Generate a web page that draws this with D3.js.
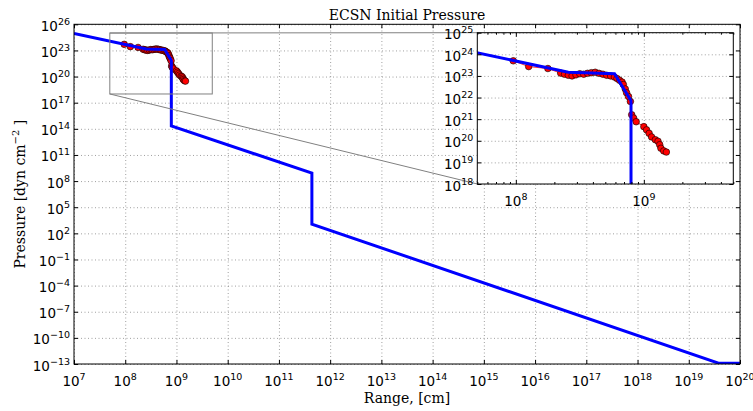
<!DOCTYPE html>
<html>
<head>
<meta charset="utf-8">
<script src="https://cdn.jsdelivr.net/npm/d3@7"></script>
<style>
body { margin: 0; background: #fff; }
</style>
</head>
<body>
<div id="chart"></div>
<script>
// model curve (blue): range [cm] and pressure [dyn cm^-2]
var modelRange = [1e7, 2.57e8, 5.9e8, 7.94e8, 7.94e8, 4.4e11, 4.4e11, 3.8e19, 1e20];
var modelPressure = [8.9e24, 1.48e23, 1.26e23, 7.1e21, 2.2e14, 8.1e8, 1.15e3, 1.25e-13, 1.25e-13];

// measured points (red)
var obsRange = [9.55e7, 1.26e8, 1.78e8, 2.24e8, 2.40e8, 2.57e8, 2.75e8, 2.95e8, 3.16e8, 3.39e8,
    3.63e8, 3.89e8, 4.17e8, 4.47e8, 4.79e8, 5.13e8, 5.50e8, 5.89e8, 6.17e8, 6.46e8,
    6.76e8, 6.92e8, 7.16e8, 7.33e8, 7.59e8, 7.85e8, 8.04e8, 8.32e8, 8.71e8, 1.00e9,
    1.05e9, 1.10e9, 1.15e9, 1.23e9, 1.29e9, 1.33e9, 1.36e9, 1.43e9, 1.50e9];
var obsPressure = [5.0e23, 2.7e23, 2.2e23, 1.35e23, 1.2e23, 1.07e23, 1.0e23, 1.12e23, 1.26e23, 1.2e23,
    1.32e23, 1.41e23, 1.48e23, 1.32e23, 1.2e23, 1.07e23, 1.0e23, 8.9e22, 7.6e22, 6.3e22,
    5.2e22, 4.0e22, 2.5e22, 1.66e22, 1.12e22, 6.6e21, 1.6e21, 1.12e21, 7.6e20, 4.5e20,
    3.2e20, 2.2e20, 1.5e20, 1.12e20, 9.5e19, 6.6e19, 4.5e19, 3.4e19, 3.0e19];

// tick labels
var mainXTicks = [1e7, 1e8, 1e9, 1e10, 1e11, 1e12, 1e13, 1e14, 1e15, 1e16, 1e17, 1e18, 1e19, 1e20];
var mainYTicks = [1e26, 1e23, 1e20, 1e17, 1e14, 1e11, 1e8, 1e5, 1e2, 1e-1, 1e-4, 1e-7, 1e-10, 1e-13];
var insetXTicks = [1e8, 1e9];
var insetYTicks = [1e25, 1e24, 1e23, 1e22, 1e21, 1e20, 1e19, 1e18];
var insetXDomain = [5e7, 5e9];
var insetYDomain = [1e18, 1e25];

var width = 753, height = 411;
var mainBox = { left: 74, right: 740, top: 24.3, bottom: 364 };
var insetBox = { left: 477.3, right: 733.3, top: 32.7, bottom: 184 };

var svg = d3.select("#chart")
    .append("svg")
    .attr("width", width)
    .attr("height", height)
    .style("font-family", "DejaVu Sans");

svg.append("rect").attr("width", width).attr("height", height).attr("fill", "#fff");

var x = d3.scaleLog().domain([1e7, 1e20]).range([mainBox.left, mainBox.right]);
var y = d3.scaleLog().domain([1e-13, 1e26]).range([mainBox.bottom, mainBox.top]);
var xi = d3.scaleLog().domain(insetXDomain).range([insetBox.left, insetBox.right]);
var yi = d3.scaleLog().domain(insetYDomain).range([insetBox.bottom, insetBox.top]);

var model = d3.zip(modelRange, modelPressure);
var obs = d3.zip(obsRange, obsPressure);

function expOf(v) {
    return String(Math.round(Math.log10(v))).replace("-", "\u2212");
}

function powLabel(g, px, py, v, anchor) {
    var t = g.append("text")
        .attr("x", px)
        .attr("y", py)
        .attr("text-anchor", anchor)
        .style("font-size", "13.5px")
        .attr("fill", "#000");
    t.append("tspan").text("10");
    t.append("tspan").attr("dy", -6).style("font-size", "9.5px").text(expOf(v));
}

function drawPanel(name, xs, ys, box, xTicks, yTicks, xMinor) {
    var g = svg.append("g");
    var w = box.right - box.left, h = box.bottom - box.top;

    g.append("rect")
        .attr("x", box.left).attr("y", box.top)
        .attr("width", w).attr("height", h)
        .attr("fill", "#fff");

    g.append("clipPath").attr("id", "clip-" + name)
        .append("rect")
        .attr("x", box.left).attr("y", box.top - 2)
        .attr("width", w).attr("height", h + 2);

    // grid
    g.append("g")
        .attr("transform", "translate(0," + box.bottom + ")")
        .call(d3.axisBottom(xs).tickValues(xTicks).tickSize(-h).tickFormat(""))
        .call(function (a) { a.select(".domain").remove(); });
    g.append("g")
        .attr("transform", "translate(" + box.left + ",0)")
        .call(d3.axisLeft(ys).tickValues(yTicks).tickSize(-w).tickFormat(""))
        .call(function (a) { a.select(".domain").remove(); });
    g.selectAll(".tick line")
        .attr("stroke", "#888")
        .attr("stroke-width", 0.8)
        .attr("stroke-dasharray", "1,2.5");

    var plot = g.append("g").attr("clip-path", "url(#clip-" + name + ")");

    // measured points
    plot.append("path")
        .datum(obs)
        .attr("fill", "none")
        .attr("stroke", "#f00")
        .attr("stroke-width", 0.8)
        .attr("d", d3.line().x(function (d) { return xs(d[0]); }).y(function (d) { return ys(d[1]); }));
    plot.selectAll("circle")
        .data(obs)
        .enter()
        .append("circle")
        .attr("cx", function (d) { return xs(d[0]); })
        .attr("cy", function (d) { return ys(d[1]); })
        .attr("r", 3.3)
        .attr("fill", "#f00")
        .attr("stroke", "#000")
        .attr("stroke-width", 0.6);

    // model curve
    plot.append("path")
        .datum(model)
        .attr("fill", "none")
        .attr("stroke", "#0000ff")
        .attr("stroke-width", 3)
        .attr("stroke-linejoin", "miter")
        .attr("d", d3.line().x(function (d) { return xs(d[0]); }).y(function (d) { return ys(d[1]); }));

    // inward ticks on all sides
    var tk = g.append("g");
    tk.append("g").attr("transform", "translate(0," + box.bottom + ")")
        .call(d3.axisBottom(xs).tickValues(xTicks).tickSize(-4).tickFormat("").tickSizeOuter(0));
    tk.append("g").attr("transform", "translate(0," + box.top + ")")
        .call(d3.axisTop(xs).tickValues(xTicks).tickSize(-4).tickFormat("").tickSizeOuter(0));
    tk.append("g").attr("transform", "translate(" + box.left + ",0)")
        .call(d3.axisLeft(ys).tickValues(yTicks).tickSize(-4).tickFormat("").tickSizeOuter(0));
    tk.append("g").attr("transform", "translate(" + box.right + ",0)")
        .call(d3.axisRight(ys).tickValues(yTicks).tickSize(-4).tickFormat("").tickSizeOuter(0));
    if (xMinor) {
        tk.append("g").attr("transform", "translate(0," + box.bottom + ")")
            .call(d3.axisBottom(xs).tickValues(xMinor).tickSize(-2).tickFormat("").tickSizeOuter(0));
        tk.append("g").attr("transform", "translate(0," + box.top + ")")
            .call(d3.axisTop(xs).tickValues(xMinor).tickSize(-2).tickFormat("").tickSizeOuter(0));
    }
    tk.selectAll(".domain").remove();
    tk.selectAll(".tick line").attr("stroke", "#000").attr("stroke-width", 1);

    // frame
    g.append("rect")
        .attr("x", box.left).attr("y", box.top)
        .attr("width", w).attr("height", h)
        .attr("fill", "none")
        .attr("stroke", "#000")
        .attr("stroke-width", 1);

    // tick labels
    xTicks.forEach(function (v) { powLabel(g, xs(v), box.bottom + 21.5, v, "middle"); });
    yTicks.forEach(function (v) { powLabel(g, box.left - 4, ys(v) + 6.5, v, "end"); });
    return g;
}

drawPanel("main", x, y, mainBox, mainXTicks, mainYTicks, null);

// zoom rectangle and connectors
var zoomG = svg.append("g").attr("fill", "none").attr("stroke", "#808080").attr("stroke-width", 1);
zoomG.append("rect")
    .attr("x", x(insetXDomain[0]))
    .attr("y", y(insetYDomain[1]))
    .attr("width", x(insetXDomain[1]) - x(insetXDomain[0]))
    .attr("height", y(insetYDomain[0]) - y(insetYDomain[1]));
zoomG.append("line")
    .attr("x1", x(insetXDomain[0])).attr("y1", y(insetYDomain[1]))
    .attr("x2", insetBox.left).attr("y2", insetBox.top);
zoomG.append("line")
    .attr("x1", x(insetXDomain[0])).attr("y1", y(insetYDomain[0]))
    .attr("x2", insetBox.left).attr("y2", insetBox.bottom);

var insetMinor = xi.ticks().filter(function (v) { return insetXTicks.indexOf(v) < 0; });
var insetG = drawPanel("inset", xi, yi, insetBox, insetXTicks, insetYTicks, insetMinor);
insetG.selectAll("text").filter(function () { return false; });

// titles
svg.append("text")
    .attr("x", (mainBox.left + mainBox.right) / 2)
    .attr("y", 20)
    .attr("text-anchor", "middle")
    .style("font-family", "DejaVu Serif")
    .style("font-size", "14px")
    .text("ECSN Initial Pressure");

svg.append("text")
    .attr("x", (mainBox.left + mainBox.right) / 2)
    .attr("y", 403)
    .attr("text-anchor", "middle")
    .style("font-family", "DejaVu Serif")
    .style("font-size", "14px")
    .text("Range, [cm]");

var yl = svg.append("text")
    .attr("transform", "translate(25," + (mainBox.top + mainBox.bottom) / 2 + ") rotate(-90)")
    .attr("text-anchor", "middle")
    .style("font-family", "DejaVu Serif")
    .style("font-size", "14px");
yl.append("tspan").text("Pressure [dyn cm");
yl.append("tspan").attr("dy", -6).style("font-size", "10px").text("\u22122");
yl.append("tspan").attr("dy", 6).text(" ]");
</script>
</body>
</html>
